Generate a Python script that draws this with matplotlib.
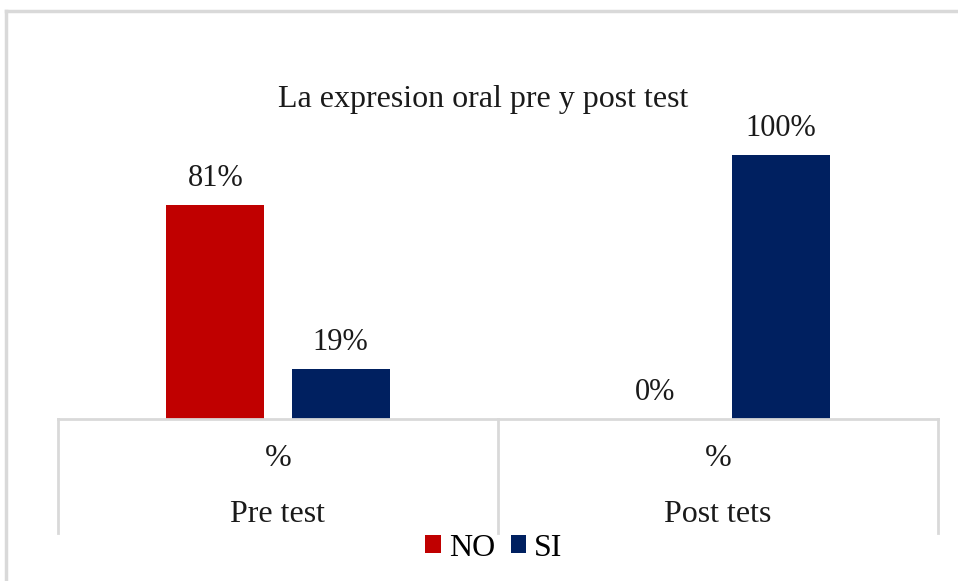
import matplotlib
matplotlib.use("Agg")
import matplotlib.pyplot as plt
from matplotlib.patches import Patch
from matplotlib.lines import Line2D

categories = ["Pre test", "Post tets"]
sub_labels = ["%", "%"]
series_names = ["NO", "SI"]
no_values = [81, 0]
si_values = [19, 100]
title = "La expresion oral pre y post test"

colors = {"NO": "#C00000", "SI": "#002060"}
grid_gray = "#D9D9D9"
text_color = "#1a1a1a"

plt.rcParams['font.family'] = ['Liberation Serif', 'DejaVu Serif']

W, H = 958, 581
fig = plt.figure(figsize=(W / 100, H / 100), dpi=100)

# axes placed in pixel coordinates
x0, x1 = 58, 938
y_base, y_top = 419, 155
ax = fig.add_axes([x0 / W, (H - y_base) / H, (x1 - x0) / W, (y_base - y_top) / H])
ax.set_xlim(-0.5, 1.5)
ax.set_ylim(0, 100)
ax.axis("off")

bw = 0.223
off = 0.1425
xs = range(len(categories))
for name, vals, sign in [("NO", no_values, -1), ("SI", si_values, 1)]:
    for i, v in zip(xs, vals):
        ax.bar(i + sign * off, v, width=bw, color=colors[name], zorder=2)
        ax.annotate(f"{v}%", (i + sign * off, v), xytext=(0, 19), textcoords="offset points",
                    ha="center", va="center", fontsize=22, color=text_color,
                    annotation_clip=False)

# category axis
ax_h = y_base - y_top
depth = (533 - y_base) / ax_h * 100
ax.plot([-0.5, 1.5], [0, 0], color=grid_gray, lw=2, clip_on=False, zorder=3)
for xv in [-0.5, 0.5, 1.5]:
    ax.plot([xv, xv], [0, -depth], color=grid_gray, lw=2, clip_on=False)
for i, (c, s) in enumerate(zip(categories, sub_labels)):
    ax.text(i, -(458 - y_base) / ax_h * 100, s, ha="center", va="center", fontsize=23, color=text_color)
    ax.text(i, -(514 - y_base) / ax_h * 100, c, ha="center", va="center", fontsize=23, color=text_color)

# title
fig.text(483 / W, 1 - 99 / H, title, ha="center", va="center", fontsize=23, color=text_color)

# legend
handles = [Patch(facecolor=colors[n], edgecolor="none") for n in series_names]
fig.legend(handles, series_names, loc="center", bbox_to_anchor=(494 / W, 1 - 548 / H),
           ncol=2, frameon=False, fontsize=23, handlelength=0.48, handleheight=0.48,
           handletextpad=0.25, columnspacing=0.5, borderpad=0)

# outer border
fig.add_artist(Line2D([6 / W, 6 / W], [0, 1 - 11 / H], color=grid_gray, lw=2.5, transform=fig.transFigure))
fig.add_artist(Line2D([6 / W, 1], [1 - 11 / H, 1 - 11 / H], color=grid_gray, lw=2.5, transform=fig.transFigure))

fig.savefig("out.png", dpi=100)
